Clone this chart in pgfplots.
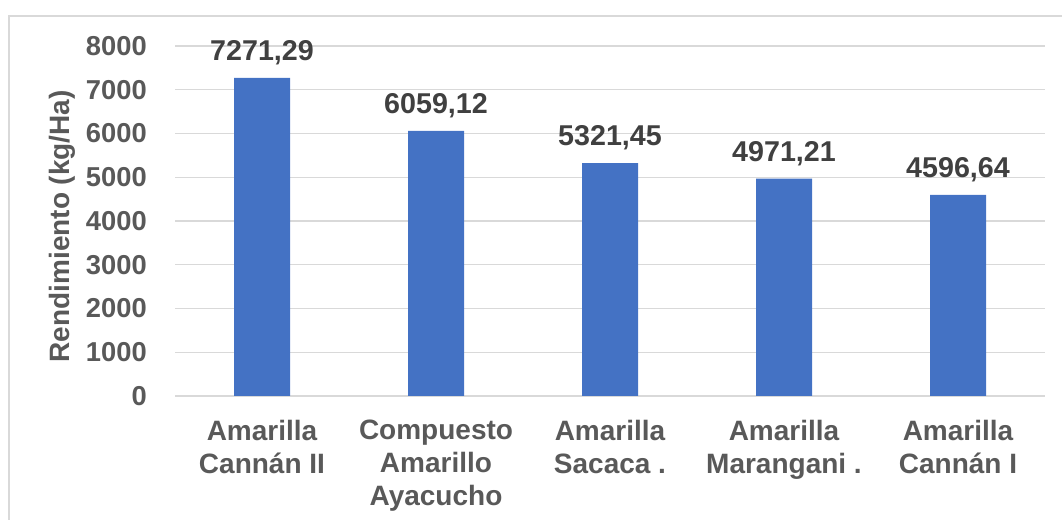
\documentclass[border=0pt]{standalone}
\usepackage{fontspec}
\setmainfont{Liberation Sans}
\usepackage{pgfplots}
\pgfplotsset{compat=1.18}
\definecolor{barblue}{HTML}{4472C4}
\definecolor{txtgray}{HTML}{595959}
\definecolor{lblgray}{HTML}{404040}
\definecolor{gridgray}{HTML}{D9D9D9}
\begin{document}
\begin{tikzpicture}[x=0.75pt,y=0.75pt]
\useasboundingbox (-175,-124) rectangle (887,396);
\draw[gridgray, line width=1pt] (-166,-140) -- (-166,380) -- (900,380);
\begin{axis}[
  at={(0,0)}, anchor=south west,
  scale only axis, width=652.5pt, height=262.5pt,
  xmin=-0.5, xmax=4.5, ymin=0, ymax=8000,
  ytick={0,1000,...,8000},
  xtick={0,1,2,3,4},
  xticklabels={{Amarilla\\Cannán II},{Compuesto\\Amarillo\\Ayacucho},{Amarilla\\Sacaca .},{Amarilla\\Marangani .},{Amarilla\\Cannán I}},
  /pgf/number format/assume math mode=true,
  scaled y ticks=false,
  yticklabel style={/pgf/number format/1000 sep={}, font=\fontsize{20.5}{24}\selectfont\bfseries, text=txtgray, anchor=east, inner sep=0pt, xshift=-21pt},
  xticklabel style={font=\fontsize{21}{24.75}\selectfont\bfseries, text=txtgray, align=center, anchor=north, inner sep=0pt, yshift=-18pt},
  ymajorgrids, grid style={gridgray, line width=1pt},
  axis x line=bottom, axis y line=left,
  x axis line style={gridgray, line width=1pt, -},
  y axis line style={draw=none},
  major tick length=0pt,
  ybar, bar width=42pt,
  nodes near coords={\pgfmathprintnumber[fixed, precision=2, fixed zerofill, use comma, 1000 sep={}]{\pgfplotspointmeta}},
  nodes near coords style={font=\fontsize{21.5}{24}\selectfont\bfseries, text=lblgray, anchor=base, inner sep=0pt, yshift=13pt},
  clip=false,
]
\addplot[fill=barblue, draw=none] coordinates {(0,7271.29) (1,6059.12) (2,5321.45) (3,4971.21) (4,4596.64)};
\node[font=\fontsize{21}{24}\selectfont\bfseries, text=txtgray, rotate=90, anchor=center, inner sep=0pt] at ([xshift=-84.75pt]rel axis cs:0,0.485) {Rendimiento (kg/Ha)};
\end{axis}
\end{tikzpicture}
\end{document}
